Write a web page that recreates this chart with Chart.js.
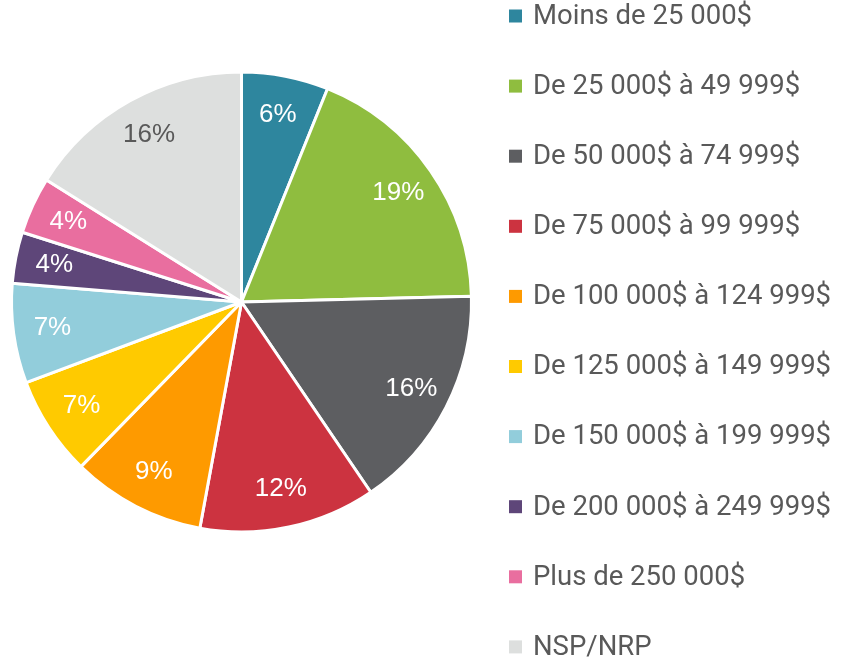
<!DOCTYPE html>
<html lang="fr">
<head>
<meta charset="utf-8">
<title>Revenu du ménage</title>
<script src="https://cdn.jsdelivr.net/npm/chart.js@4.4.1/dist/chart.umd.min.js"></script>
<style>
  html, body { margin: 0; padding: 0; background: #fff; }
  #chart { display: block; }
</style>
</head>
<body>
<canvas id="chart" width="841" height="663"></canvas>
<script>
// categories
const categories = [
  'Moins de 25 000$',
  'De 25 000$ à 49 999$',
  'De 50 000$ à 74 999$',
  'De 75 000$ à 99 999$',
  'De 100 000$ à 124 999$',
  'De 125 000$ à 149 999$',
  'De 150 000$ à 199 999$',
  'De 200 000$ à 249 999$',
  'Plus de 250 000$',
  'NSP/NRP'
];

// share of respondents (%)
const shares = [6.1, 18.5, 15.9, 12.4, 9.4, 7.0, 7.0, 3.6, 4.0, 16.1];

const colors = [
  '#2E869E', '#8FBD3F', '#5D5E61', '#CC3340', '#FE9A00',
  '#FFCA00', '#92CDDB', '#5E4679', '#E96E9F', '#DDDFDE'
];

// label colour inside each slice
const labelColors = [
  '#fff', '#fff', '#fff', '#fff', '#fff',
  '#fff', '#fff', '#fff', '#fff', '#595959'
];

// percent labels inside slices
const sliceLabels = {
  id: 'sliceLabels',
  afterDatasetsDraw(chart) {
    const ctx = chart.ctx;
    const meta = chart.getDatasetMeta(0);
    ctx.save();
    ctx.font = '26px "Liberation Sans", Arial, sans-serif';
    ctx.textAlign = 'center';
    ctx.textBaseline = 'middle';
    meta.data.forEach((arc, i) => {
      const p = arc.getProps(['x', 'y', 'startAngle', 'endAngle', 'outerRadius'], true);
      const mid = (p.startAngle + p.endAngle) / 2;
      const r = p.outerRadius * 0.83;
      ctx.fillStyle = labelColors[i];
      ctx.fillText(Math.round(shares[i]) + '%', p.x + Math.cos(mid) * r, p.y + Math.sin(mid) * r);
    });
    ctx.restore();
  }
};

// legend column on the right
const sideLegend = {
  id: 'sideLegend',
  afterDraw(chart) {
    const ctx = chart.ctx;
    const x0 = 509, top = 16, step = 70.1, box = 13;
    ctx.save();
    ctx.font = '27.5px Roboto, "Liberation Sans", sans-serif';
    ctx.textBaseline = 'middle';
    ctx.textAlign = 'left';
    categories.forEach((label, i) => {
      const y = top + i * step;
      ctx.fillStyle = colors[i];
      ctx.fillRect(x0, y - box / 2, box, box);
      ctx.fillStyle = '#595959';
      ctx.fillText(label, x0 + 24, y + 1);
    });
    ctx.restore();
  }
};

new Chart(document.getElementById('chart').getContext('2d'), {
  type: 'pie',
  data: {
    labels: categories,
    datasets: [{
      data: shares,
      backgroundColor: colors,
      borderColor: '#fff',
      borderWidth: 3,
      radius: 230
    }]
  },
  options: {
    responsive: false,
    animation: false,
    layout: { padding: { left: 0, right: 358, top: 0, bottom: 59 } },
    plugins: {
      legend: { display: false },
      tooltip: { enabled: false }
    }
  },
  plugins: [sliceLabels, sideLegend]
});
</script>
</body>
</html>
